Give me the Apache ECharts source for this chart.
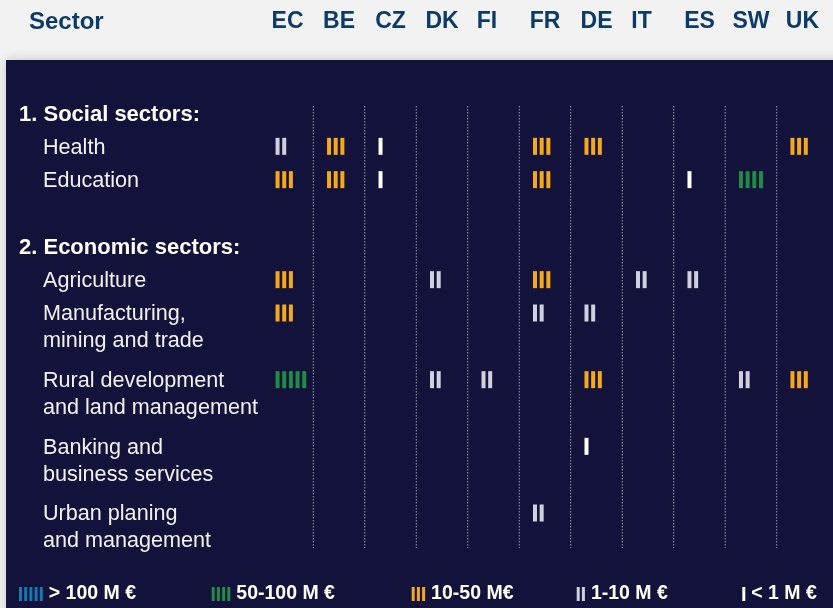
<!DOCTYPE html>
<html>
<head>
<meta charset="utf-8">
<script src="https://cdn.jsdelivr.net/npm/echarts@6/dist/echarts.min.js"></script>
<style>html,body{margin:0;padding:0;background:#f2f2f2;}#c{width:833px;height:608px;}</style>
</head>
<body>
<div id="c"></div>
<script>
// ---- data ----
const countries = ['EC', 'BE', 'CZ', 'DK', 'FI', 'FR', 'DE', 'IT', 'ES', 'SW', 'UK'];
const groupTitles = ['1. Social sectors:', '2. Economic sectors:'];
const socialSectors = ['Health', 'Education'];
const economicSectors = ['Agriculture', 'Manufacturing,\nmining and trade', 'Rural development\nand land management', 'Banking and\nbusiness services', 'Urban planing\nand management'];
// number of bars shown per country (0 = none)
const health           = [2, 3, 1, 0, 0, 3, 3, 0, 0, 0, 3];
const education        = [3, 3, 1, 0, 0, 3, 0, 0, 1, 4, 0];
const agriculture      = [3, 0, 0, 2, 0, 3, 0, 2, 2, 0, 0];
const manufacturing    = [3, 0, 0, 0, 0, 2, 2, 0, 0, 0, 0];
const ruralDevelopment = [5, 0, 0, 2, 2, 0, 3, 0, 0, 2, 3];
const banking          = [0, 0, 0, 0, 0, 0, 1, 0, 0, 0, 0];
const urbanPlanning    = [0, 0, 0, 0, 0, 2, 0, 0, 0, 0, 0];
// legend levels (level = number of bars)
const levelNames = ['< 1 M €', '1-10 M €', '10-50 M€', '50-100 M €', '> 100 M €'];
// the EC rural development mark is drawn with five bars in the 50-100 M € colour
const levelOverrides = [{ sector: 'Rural development\nand land management', country: 'EC', level: 4 }];

// ---- build ----
const levelColors = ['#ffffff', '#cfd1de', '#f5a81a', '#1f8b45', '#1878b0'];
const groups = [
  { title: groupTitles[0], sectors: [[socialSectors[0], health], [socialSectors[1], education]] },
  { title: groupTitles[1], sectors: [[economicSectors[0], agriculture], [economicSectors[1], manufacturing],
    [economicSectors[2], ruralDevelopment], [economicSectors[3], banking], [economicSectors[4], urbanPlanning]] }
];
const labelRows = [];
const marks = [];
let r = 0;
groups.forEach((g, gi) => {
  if (gi > 0) r += 1;
  labelRows.push({ row: r, text: g.title, bold: true });
  r += 1;
  g.sectors.forEach(([name, vals]) => {
    labelRows.push({ row: r, text: name, bold: false });
    vals.forEach((n, ci) => {
      if (!n) return;
      const ov = levelOverrides.find(o => o.sector === name && o.country === countries[ci]);
      marks.push({ col: ci, row: r, bars: n, level: ov ? ov.level : n });
    });
    r += name.split('\n').length;
  });
});

const FONT = '"Liberation Sans", Arial, sans-serif';

function renderBars(params, api) {
  const c = api.coord([api.value(0), api.value(1)]);
  const n = api.value(2);
  const children = [];
  for (let i = 0; i < n; i++) {
    children.push({ type: 'rect', shape: { x: c[0] - 12 + i * 6.67, y: c[1] - 8.5, width: 4, height: 17 },
      style: { fill: api.visual('color') } });
  }
  return { type: 'group', children };
}

const markSeries = levelNames.map((nm, i) => ({
  type: 'custom', name: nm, xAxisIndex: 0, yAxisIndex: 0,
  itemStyle: { color: levelColors[i] },
  renderItem: renderBars,
  data: marks.filter(m => m.level === i + 1).map(m => [m.col, m.row, m.bars]),
  z: 5, silent: true
}));

const labelSeries = {
  type: 'custom', name: 'rowLabels', xAxisIndex: 0, yAxisIndex: 0, silent: true, clip: false,
  data: labelRows.map(l => [0, l.row]),
  renderItem: (params, api) => {
    const l = labelRows[params.dataIndex];
    const y = api.coord([0, api.value(1)])[1];
    return { type: 'text', style: { x: l.bold ? 19 : 43, y: y - 12, text: l.text,
      fill: l.bold ? '#ffffff' : '#f2f2f4', font: (l.bold ? 'bold 22px ' : '21.6px ') + FONT,
      lineHeight: 27, verticalAlign: 'top', align: 'left' } };
  }
};

const dividerSeries = {
  type: 'custom', name: 'dividers', xAxisIndex: 0, yAxisIndex: 0, silent: true, clip: false,
  data: countries.slice(1).map((c, i) => [i + 0.5]),
  renderItem: (params, api) => {
    const p1 = api.coord([api.value(0), -0.2]);
    const p2 = api.coord([api.value(0), 13.05]);
    return { type: 'line', shape: { x1: p1[0], y1: p1[1], x2: p2[0], y2: p2[1] },
      style: { stroke: 'rgba(255,255,255,0.85)', lineWidth: 1, lineDash: [1, 2] } };
  }
};

function barIcon(n) {
  let p = 'path://';
  for (let i = 0; i < n; i++) p += 'M' + (i * 5.2) + ' 0h3v14h-3z';
  return p;
}
const legendOrder = [5, 4, 3, 2, 1];
const legendLefts = [19, 211.7, 411.7, 576.7, 742.3];
const legends = legendOrder.map((lv, i) => ({
  data: [levelNames[lv - 1]], left: legendLefts[i], top: 584, padding: 0,
  icon: barIcon(lv), itemWidth: (lv - 1) * 5.2 + 3, itemHeight: 14, selectedMode: false,
  textStyle: { color: '#ffffff', fontSize: 19.5, fontWeight: 'bold', fontFamily: FONT, lineHeight: 20,
    padding: [0, 0, 0, 1] }
}));

const shifted = { FI: 1, IT: 1 };
const option = {
  backgroundColor: '#f2f2f2',
  animation: false,
  title: { text: 'Sector', left: 29, top: 10, padding: 0,
    textStyle: { fontSize: 24, fontWeight: 'bold', color: '#0d3b69', fontFamily: FONT } },
  graphic: [{ type: 'rect', left: 6, top: 60, z: 0, silent: true,
    shape: { width: 900, height: 600 },
    style: { fill: '#13123a', shadowBlur: 10, shadowColor: 'rgba(0,0,0,0.18)' } }],
  legend: legends,
  grid: { left: 261.8, right: 4.8, top: 96.33, bottom: 45 },
  xAxis: [
    { type: 'value', min: -0.5, max: 10.5, show: false },
    { type: 'category', data: countries, position: 'top', boundaryGap: true,
      axisLine: { show: false }, axisTick: { show: false }, splitLine: { show: false },
      axisLabel: { interval: 0, margin: 63, color: '#0d3b69', fontSize: 23, fontWeight: 'bold', fontFamily: FONT,
        formatter: v => shifted[v] ? '{s|' + v + '}' : v,
        rich: { s: { padding: [0, 13, 0, 0], color: '#0d3b69', fontSize: 23, fontWeight: 'bold', fontFamily: FONT } } } }
  ],
  yAxis: { type: 'value', inverse: true, min: -0.5, max: 13.5, show: false },
  series: [dividerSeries, labelSeries].concat(markSeries)
};
echarts.init(document.getElementById('c')).setOption(option);
</script>
</body>
</html>
